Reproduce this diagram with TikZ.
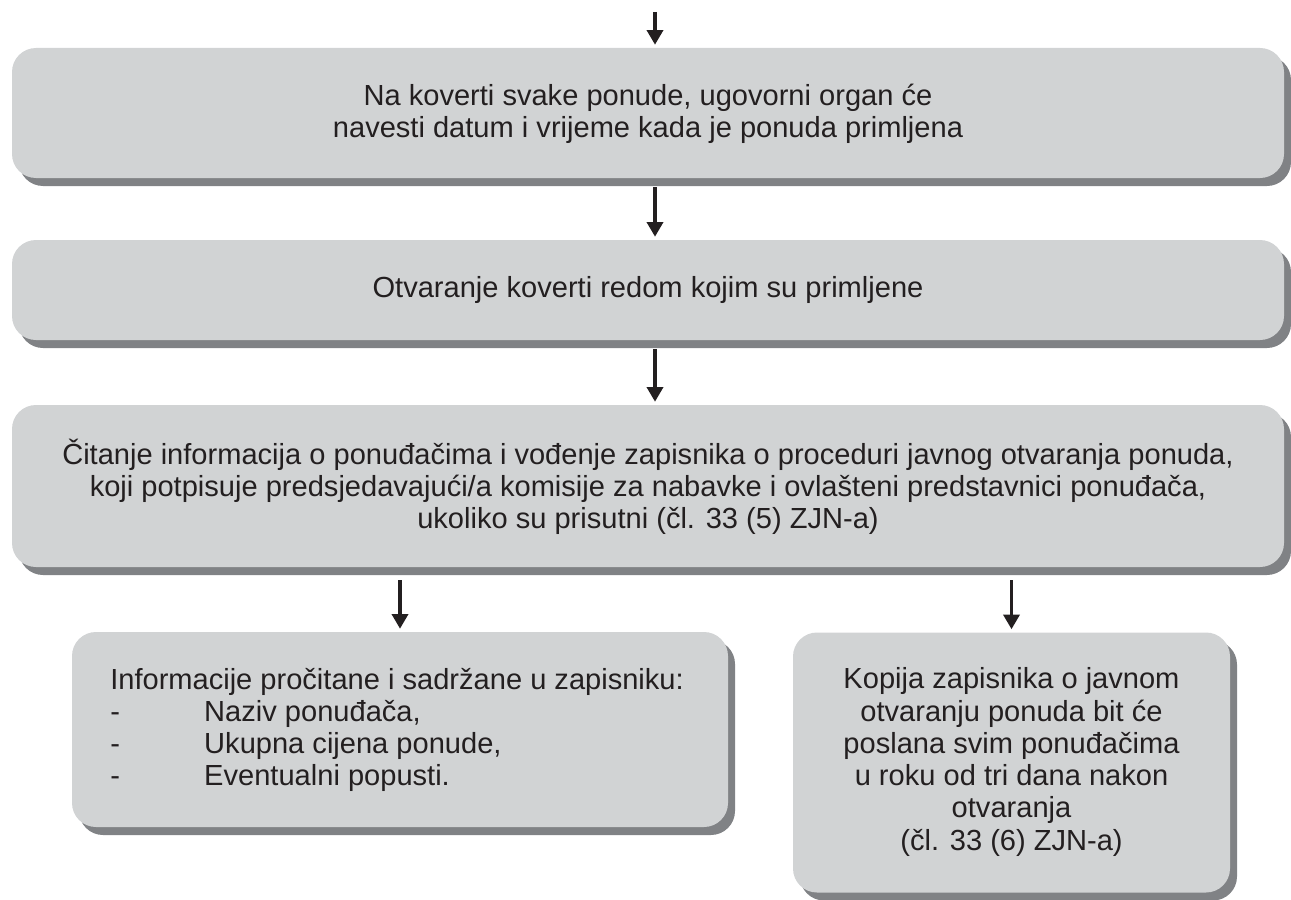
\documentclass[tikz,border=0pt]{standalone}
\usepackage{fontspec}
\setmainfont{Liberation Sans}
\usetikzlibrary{shadows,arrows.meta}
\definecolor{boxfill}{HTML}{D1D3D4}
\definecolor{boxshadow}{HTML}{808285}
\definecolor{ink}{HTML}{231F20}
\begin{document}
\begin{tikzpicture}[x=0.75pt,y=-0.75pt,
  stepbox/.style={rectangle, rounded corners=18pt, fill=boxfill, draw=none,
    inner sep=0pt,
    drop shadow={shadow xshift=5.25pt, shadow yshift=-6pt, fill=boxshadow, opacity=1}},
  txt/.style={inner sep=0pt, text=ink, align=center,
    font=\fontsize{21.8}{24.2}\selectfont},
  arr/.style={draw=ink, line width=2.6pt, -{Triangle[length=11pt,width=12pt]}}]
\useasboundingbox (0,0) rectangle (1291,899);

% boxes
\node[stepbox, minimum width=954pt, minimum height=97.5pt] (b1) at (648,113) {};
\node[stepbox, minimum width=954pt, minimum height=75pt] (b2) at (648,290) {};
\node[stepbox, minimum width=954pt, minimum height=121.5pt] (b3) at (648,486) {};
\node[stepbox, minimum width=492pt, minimum height=146.25pt] (b4) at (400,729.5) {};
\node[stepbox, minimum width=327.75pt, minimum height=195pt] (b5) at (1011.5,762.5) {};

% texts
\node[txt] (t1) at (648,114) {Na koverti svake ponude, ugovorni organ će\\navesti datum i vrijeme kada je ponuda primljena};
\node[txt] (t2) at (648,290) {Otvaranje koverti redom kojim su primljene};
\node[txt] (t3) at (648,487) {Čitanje informacija o ponuđačima i vođenje zapisnika o proceduri javnog otvaranja ponuda,\\
koji potpisuje predsjedavajući/a komisije za nabavke i ovlašteni predstavnici ponuđača,\\
ukoliko su prisutni (čl. 33 (5) ZJN-a)};
\node[txt, align=left, anchor=west] (t4) at (110,730) {Informacije pročitane i sadržane u zapisniku:\\
\makebox[70.5pt][l]{-}Naziv ponuđača,\\
\makebox[70.5pt][l]{-}Ukupna cijena ponude,\\
\makebox[70.5pt][l]{-}Eventualni popusti.};
\node[txt] (t5) at (1011.5,762) {Kopija zapisnika o javnom\\otvaranju ponuda bit će\\poslana svim ponuđačima\\u roku od tri dana nakon\\otvaranja\\(čl. 33 (6) ZJN-a)};

% connectors
\coordinate (axis) at (655,0);
\coordinate (entry) at (655,12);
\draw[arr, shorten >=2.25pt] (entry) -- (b1.north -| axis);
\draw[arr, shorten <=6.75pt, shorten >=2.25pt] (b1.south -| axis) -- (b2.north -| axis);
\draw[arr, shorten <=6.75pt, shorten >=2.25pt] (b2.south -| axis) -- (b3.north -| axis);
\draw[arr, shorten <=9.75pt, shorten >=2.25pt] (b3.south -| b4.north) -- (b4.north);
\draw[arr, shorten <=9.75pt, shorten >=2.25pt] (b3.south -| b5.north) -- (b5.north);
\end{tikzpicture}
\end{document}
